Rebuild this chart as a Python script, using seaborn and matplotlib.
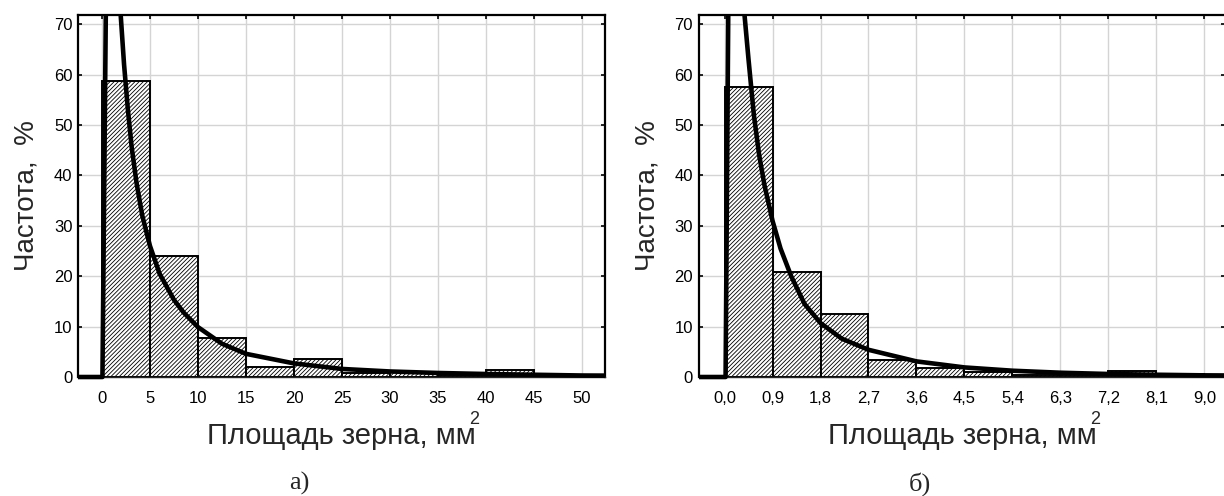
import numpy as np
import matplotlib
matplotlib.use("Agg")
import matplotlib.pyplot as plt
import seaborn as sns
from matplotlib.transforms import Bbox, TransformedBbox

# --- data ---
# panel a): grain area, mm^2, bin edges step 5
edges_a = [0, 5, 10, 15, 20, 25, 30, 35, 40, 45, 50]
freq_a = [58.8, 24.0, 7.7, 2.0, 3.5, 0.7, 0.9, 0.3, 1.4, 0.3]
ticks_a = [0, 5, 10, 15, 20, 25, 30, 35, 40, 45, 50]
tick_labels_a = ["0", "5", "10", "15", "20", "25", "30", "35", "40", "45", "50"]
curve_a_x = [-2.5, 0.05, 0.4, 1.0, 1.95, 2.3, 2.7, 3.1, 3.6, 4.2, 5.0, 6.0,
             7.5, 8.5, 10, 12.5, 15, 20, 25, 30, 35, 40, 45, 50, 52.4]
curve_a_y = [0, 0, 72, 140, 71.8, 62, 53, 45.5, 38.5, 32, 26, 20.5,
             15.3, 12.8, 9.9, 6.6, 4.6, 2.7, 1.6, 1.1, 0.8, 0.6, 0.45, 0.3, 0.28]

# panel б): grain area, mm^2, bin edges step 0.9
edges_b = [0.0, 0.9, 1.8, 2.7, 3.6, 4.5, 5.4, 6.3, 7.2, 8.1, 9.0, 9.9]
freq_b = [57.5, 20.8, 12.4, 3.4, 1.8, 1.0, 0.4, 0.3, 1.1, 0.5, 0.3]
ticks_b = [0.0, 0.9, 1.8, 2.7, 3.6, 4.5, 5.4, 6.3, 7.2, 8.1, 9.0]
tick_labels_b = ["0,0", "0,9", "1,8", "2,7", "3,6", "4,5", "5,4", "6,3", "7,2", "8,1", "9,0"]
curve_b_x = [-0.5, 0.02, 0.07, 0.2, 0.375, 0.45, 0.55, 0.65, 0.75, 0.9, 1.05, 1.25,
             1.5, 1.8, 2.2, 2.7, 3.6, 4.5, 5.4, 6.3, 7.2, 8.1, 9.0, 9.5]
curve_b_y = [0, 0, 72, 140, 71.8, 63, 52, 44, 38, 31, 25.5, 20,
             14.5, 10.7, 7.6, 5.4, 3.1, 1.9, 1.25, 0.85, 0.6, 0.45, 0.33, 0.3]

ylab = "Частота,  %"
xlab = "Площадь зерна, мм"

sns.set_style("ticks")
plt.rcParams['font.family'] = ['Liberation Sans', 'DejaVu Sans']
plt.rcParams['hatch.linewidth'] = 0.6

fig = plt.figure(figsize=(12.24, 4.96), dpi=100)
ax1 = fig.add_axes([0.0637, 0.2399, 0.4306, 0.7298])
ax2 = fig.add_axes([0.5708, 0.2399, 0.4292 + 0.001, 0.7298])


def panel(ax, edges, freq, cx, cy, ticks, tlabels, xlim, letter, show_right):
    sns.histplot(x=edges[:-1], weights=freq, bins=edges, ax=ax, stat="count",
                 facecolor="white", edgecolor="black", linewidth=1.4,
                 hatch="////////", alpha=1, zorder=2)
    sns.lineplot(x=cx, y=cy, ax=ax, color="black", linewidth=3.3, zorder=4, sort=False)
    line = ax.lines[-1]
    line.set_clip_box(TransformedBbox(Bbox([[0, -0.05], [1, 1]]), ax.transAxes))
    line.set_solid_joinstyle("round")

    ax.set_xlim(*xlim)
    ax.set_ylim(0, 71.8)
    ax.set_xticks(ticks)
    ax.set_xticklabels(tlabels)
    ax.set_yticks(range(0, 71, 10))
    ax.grid(True, color="#d4d4d4", linewidth=1.0, zorder=0)
    ax.set_axisbelow(True)
    ax.tick_params(axis="both", labelsize=12, direction="in", length=3, width=1.2,
                   top=True, right=True, bottom=False, colors="black")
    ax.tick_params(axis="x", pad=10)
    ax.tick_params(axis="y", pad=4)
    for s in ["top", "left", "right"]:
        ax.spines[s].set_linewidth(1.6)
        ax.spines[s].set_color("black")
    ax.spines["bottom"].set_linewidth(1.0)
    ax.spines["right"].set_visible(show_right)

    ax.set_ylabel(ylab, fontsize=20)
    ax.yaxis.set_label_coords(-0.073, 0.5)
    ax.set_xlabel(xlab, fontsize=21)
    ax.xaxis.set_label_coords(0.5, -0.125)
    ax.text(0.752, -0.118, "2", transform=ax.transAxes, fontsize=13,
            ha="center", va="center")
    ax.text(0.42, -0.295, letter, transform=ax.transAxes, fontsize=19,
            ha="center", va="center", family=["Liberation Serif", "DejaVu Serif"])


panel(ax1, edges_a, freq_a, curve_a_x, curve_a_y, ticks_a, tick_labels_a,
      (-2.5, 52.4), "а)", True)
panel(ax2, edges_b, freq_b, curve_b_x, curve_b_y, ticks_b, tick_labels_b,
      (-0.485, 9.39), "б)", False)

fig.savefig("out.png", dpi=100)
